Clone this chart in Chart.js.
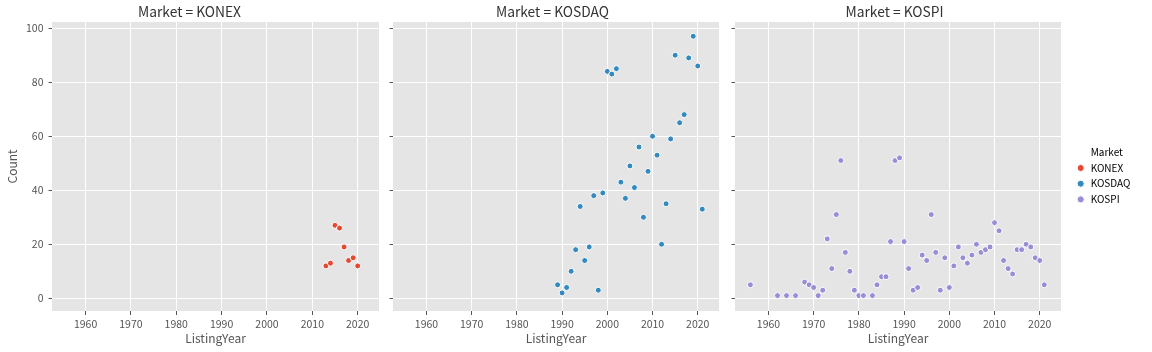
<!DOCTYPE html>
<html>
<head>
<meta charset="utf-8">
<script src="https://cdn.jsdelivr.net/npm/chart.js@4"></script>
<style>
  html, body { margin: 0; padding: 0; background: #fff; }
  #wrap { position: relative; width: 1152px; height: 352px; }
  canvas { position: absolute; top: 0; }
</style>
</head>
<body>
<div id="wrap">
  <canvas id="c1" width="386" height="352" style="left:0px"></canvas>
  <canvas id="c2" width="340" height="352" style="left:386px"></canvas>
  <canvas id="c3" width="340" height="352" style="left:728px"></canvas>
  <canvas id="leg" width="82" height="352" style="left:1070px"></canvas>
</div>
<script>
const markets = ["KONEX", "KOSDAQ", "KOSPI"];
const marketColors = ["#E24A33", "#348ABD", "#988ED5"];

const konexYears = [2013, 2014, 2015, 2016, 2017, 2018, 2019, 2020];
const konexCounts = [12, 13, 27, 26, 19, 14, 15, 12];

const kosdaqYears = [1989, 1990, 1991, 1992, 1993, 1994, 1995, 1996, 1997, 1998, 1999, 2000, 2001,
  2002, 2003, 2004, 2005, 2006, 2007, 2008, 2009, 2010, 2011, 2012, 2013, 2014, 2015, 2016, 2017,
  2018, 2019, 2020, 2021];
const kosdaqCounts = [5, 2, 4, 10, 18, 34, 14, 19, 38, 3, 39, 84, 83,
  85, 43, 37, 49, 41, 56, 30, 47, 60, 53, 20, 35, 59, 90, 65, 68,
  89, 97, 86, 33];

const kospiYears = [1956, 1962, 1964, 1966, 1968, 1969, 1970, 1971, 1972, 1973, 1974, 1975, 1976,
  1977, 1978, 1979, 1980, 1981, 1983, 1984, 1985, 1986, 1987, 1988, 1989, 1990, 1991, 1992, 1993,
  1994, 1995, 1996, 1997, 1998, 1999, 2000, 2001, 2002, 2003, 2004, 2005, 2006, 2007, 2008, 2009,
  2010, 2011, 2012, 2013, 2014, 2015, 2016, 2017, 2018, 2019, 2020, 2021];
const kospiCounts = [5, 1, 1, 1, 6, 5, 4, 1, 3, 22, 11, 31, 51,
  17, 10, 3, 1, 1, 1, 5, 8, 8, 21, 51, 52, 21, 11, 3, 4,
  16, 14, 31, 17, 3, 15, 4, 12, 19, 15, 13, 16, 20, 17, 18, 19,
  28, 25, 14, 11, 9, 18, 18, 20, 19, 15, 14, 5];

const yearTicks = [1960, 1970, 1980, 1990, 2000, 2010, 2020];
const countTicks = [0, 20, 40, 60, 80, 100];

Chart.defaults.font.family = '"Noto Sans CJK KR", "Noto Sans", sans-serif';

// 회색 배경 (ggplot 스타일)
const panelBg = {
  id: "panelBg",
  beforeDraw(chart) {
    const a = chart.chartArea;
    const ctx = chart.ctx;
    ctx.save();
    ctx.fillStyle = "#E5E5E5";
    ctx.fillRect(a.left, a.top, a.right - a.left, a.bottom - a.top);
    ctx.restore();
  },
};

function makePanel(id, idx, years, counts, first) {
  const ctx = document.getElementById(id).getContext("2d");
  return new Chart(ctx, {
    type: "scatter",
    data: {
      datasets: [
        {
          label: markets[idx],
          data: years.map((y, i) => ({ x: y, y: counts[i] })),
          backgroundColor: marketColors[idx],
          borderColor: "#ffffff",
          borderWidth: 1,
          pointRadius: 3,
          pointHoverRadius: 3,
        },
      ],
    },
    options: {
      responsive: false,
      animation: false,
      devicePixelRatio: 1,
      layout: { padding: { top: 0, right: 7, bottom: 0, left: 0 } },
      scales: {
        x: {
          type: "linear",
          min: 1952.6,
          max: 2024.7,
          afterBuildTicks: (s) => { s.ticks = yearTicks.map((v) => ({ value: v })); },
          afterFit: (s) => { s.height = 41; },
          grid: { color: "#ffffff", lineWidth: 1, tickLength: 4, tickColor: "#555555", tickWidth: 1 },
          border: { display: false },
          ticks: { color: "#555555", font: { size: 10.5 }, padding: 3, maxRotation: 0, callback: (v) => String(v) },
          title: { display: true, text: "ListingYear", color: "#555555", font: { size: 12 }, padding: { top: 0, bottom: 6.8 } },
        },
        y: {
          type: "linear",
          min: -4.7,
          max: 102.3,
          afterBuildTicks: (s) => { s.ticks = countTicks.map((v) => ({ value: v })); },
          afterFit: (s) => { s.width = first ? 52 : 7; },
          grid: { color: "#ffffff", lineWidth: 1, tickLength: 3.5, tickColor: "#555555", tickWidth: 1 },
          border: { display: false },
          ticks: { display: first, color: "#555555", font: { size: 10.5 }, padding: 5, callback: (v) => String(v) },
          title: { display: first, text: "Count", color: "#555555", font: { size: 12 }, padding: { top: 4.8, bottom: 0 } },
        },
      },
      plugins: {
        legend: { display: false },
        tooltip: { enabled: false },
        title: {
          display: true,
          text: "Market = " + markets[idx],
          color: "#333333",
          font: { size: 13.8, weight: "normal" },
          padding: { top: 3.7, bottom: 1.7 },
        },
      },
    },
    plugins: [panelBg],
  });
}

makePanel("c1", 0, konexYears, konexCounts, true);
makePanel("c2", 1, kosdaqYears, kosdaqCounts, false);
makePanel("c3", 2, kospiYears, kospiCounts, false);

// 범례 (오른쪽)
new Chart(document.getElementById("leg").getContext("2d"), {
  type: "scatter",
  data: { datasets: [] },
  options: {
    responsive: false,
    animation: false,
    devicePixelRatio: 1,
    layout: { padding: { top: 141.6, left: 0, right: 0, bottom: 0 } },
    scales: { x: { display: false }, y: { display: false } },
    plugins: {
      tooltip: { enabled: false },
      legend: {
        display: true,
        position: "top",
        align: "start",
        labels: {
          usePointStyle: true,
          boxWidth: 21.4,
          boxHeight: 5,
          padding: 5.7,
          color: "#333333",
          font: { size: 10 },
          generateLabels: () => [
            { text: "Market", fillStyle: "rgba(0,0,0,0)", strokeStyle: "rgba(0,0,0,0)", lineWidth: 0, pointStyle: "circle", hidden: false },
          ].concat(markets.map((m, i) => ({
            text: m,
            fillStyle: marketColors[i],
            strokeStyle: "#ffffff",
            lineWidth: 1,
            pointStyle: "circle",
            hidden: false,
          }))),
        },
      },
    },
  },
});
</script>
</body>
</html>
